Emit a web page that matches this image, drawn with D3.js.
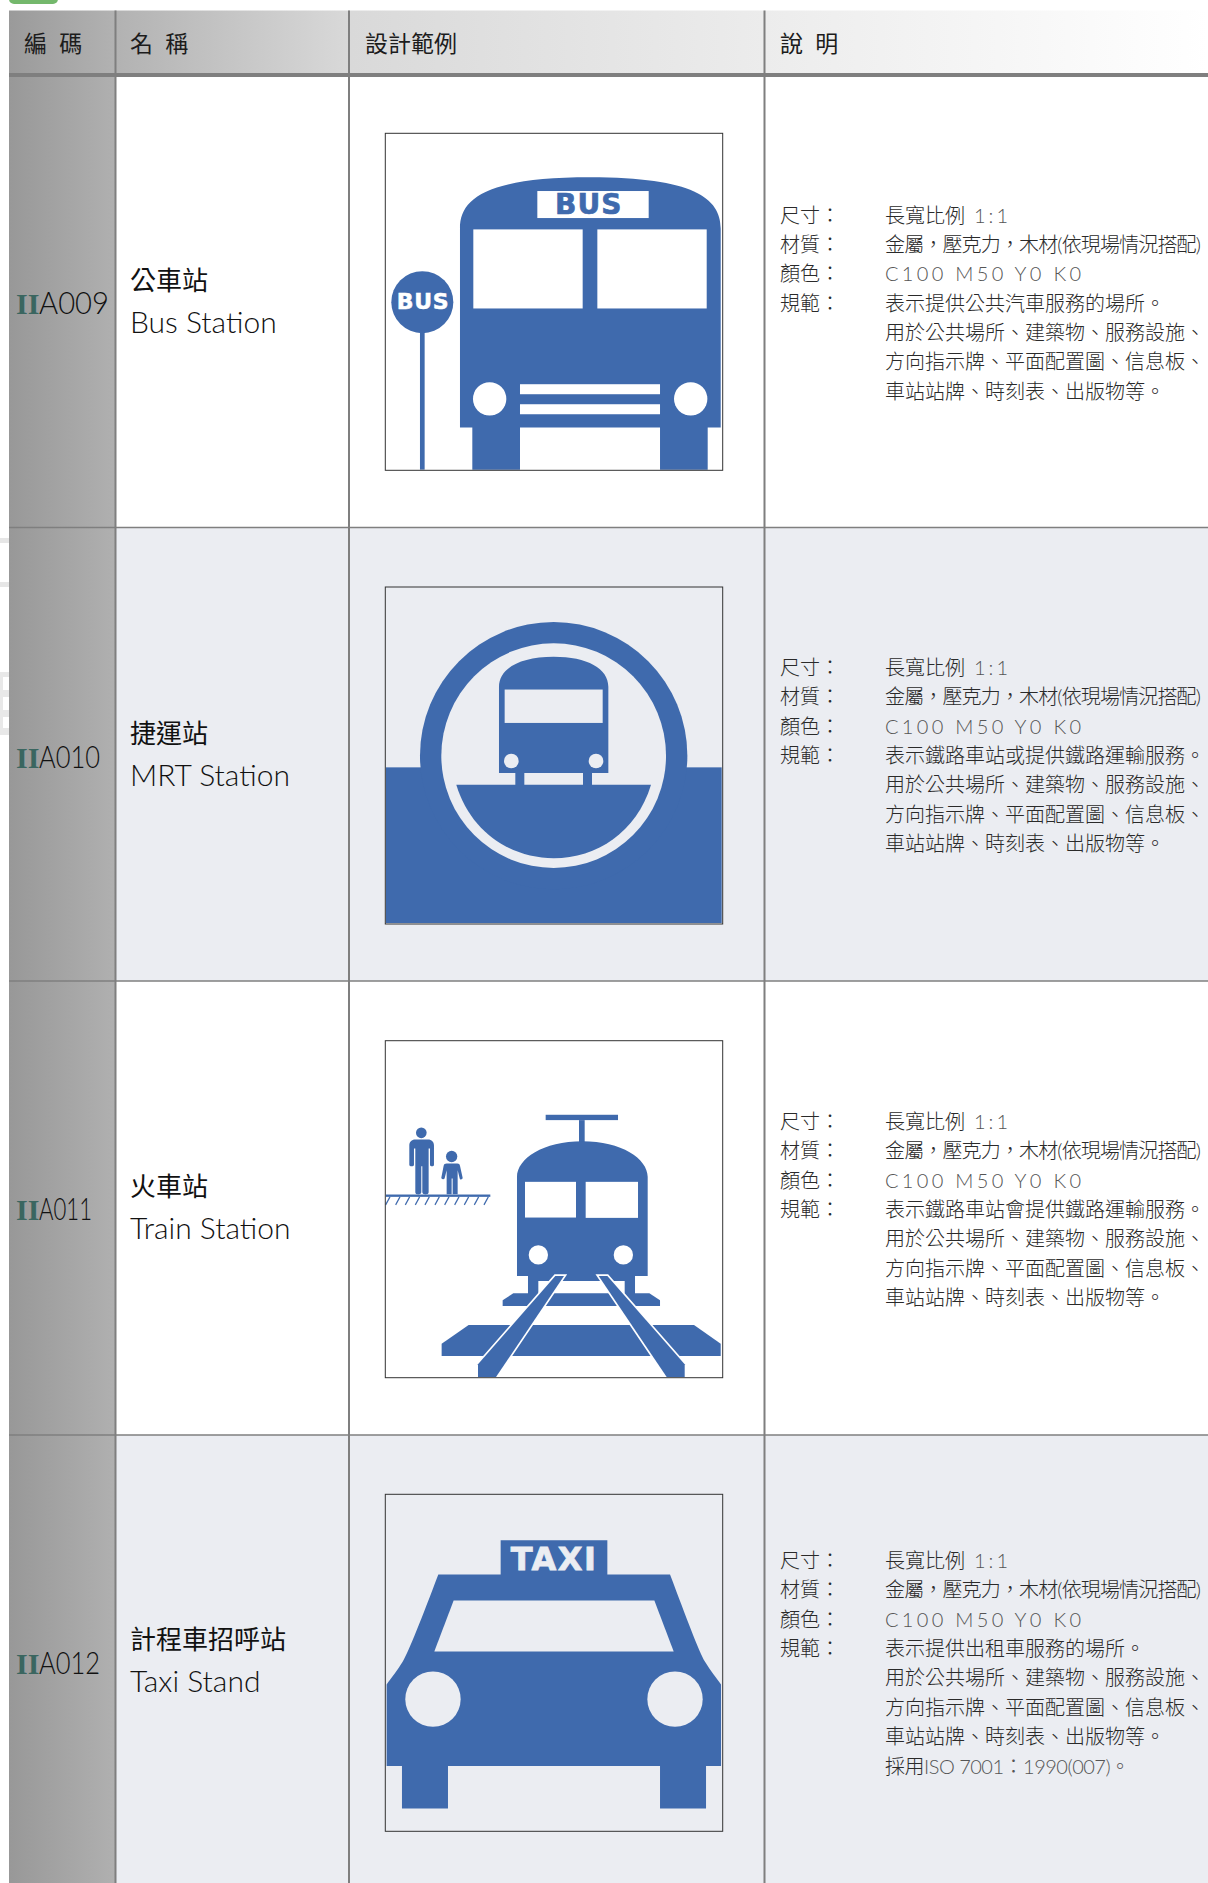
<!DOCTYPE html>
<html>
<head>
<meta charset="utf-8">
<script src="https://cdn.jsdelivr.net/npm/d3@7"></script>
<style>
  html, body { margin: 0; padding: 0; background: #fff; overflow: hidden; }
  svg { display: block; }
  text { font-family: "Lato", "Noto Sans CJK TC", sans-serif; font-weight: 300; fill: #2a2a2a; }
  .cjk { font-family: "Noto Sans CJK TC", sans-serif; }
</style>
</head>
<body>
<svg></svg>
<script>
// table content
const headers = ["編 碼", "名 稱", "設計範例", "說 明"]
const codes = ["A009", "A010", "A011", "A012"]
const namesZh = ["公車站", "捷運站", "火車站", "計程車招呼站"]
const namesEn = ["Bus Station", "MRT Station", "Train Station", "Taxi Stand"]
const labels = ["尺寸：", "材質：", "顏色：", "規範："]
const specSize = ["長寬比例", "1:1"]
const specMaterial = "金屬，壓克力，木材(依現場情況搭配)"
const specColor = "C100 M50 Y0 K0"
const usageFirst = [
  "表示提供公共汽車服務的場所。",
  "表示鐵路車站或提供鐵路運輸服務。",
  "表示鐵路車站會提供鐵路運輸服務。",
  "表示提供出租車服務的場所。"
]
const usageCommon = ["用於公共場所、建築物、服務設施、", "方向指示牌、平面配置圖、信息板、", "車站站牌、時刻表、出版物等。"]
const usageExtra = [null, null, null, ["採用", "ISO 7001：1990(007)。"]]

// icon outlines, in reference zoom units, each scaled into its own box
const busBody = [["M",270,922],["L",270,325],["C",270,235,350,172,660,172],["C",970,172,1052,235,1052,325],["L",1052,922],["L",1013,922],["L",1013,1048],["L",870,1048],["L",870,922],["L",450,922],["L",450,1048],["L",307,1048],["L",307,922],["Z"]]
const busHoles = [[502,213,836,294],[310,328,638,565],[682,328,1010,565],[450,792,870,822],[450,852,870,882]]
const busLights = [[359,836,50],[962,836,50]]
const mrtSegment = [["M",259,628],["L",843,628],["C",800,770,680,848,551,848],["C",422,848,302,770,259,628],["Z"]]
const mrtBus = [["M",387,593],["L",387,335],["C",387,280,450,245,551,245],["C",652,245,715,280,715,335],["L",715,593],["L",666,593],["L",666,630],["L",639,630],["L",639,593],["L",463,593],["L",463,630],["L",436,630],["L",436,593],["Z"]]
const trainBody = [["M",441,737],["L",441,440],["C",441,385,520,333,637,333],["C",754,333,833,385,833,440],["L",833,737],["L",795,737],["L",795,800],["L",764,800],["L",764,752],["L",505,752],["L",505,800],["L",474,800],["L",474,737],["Z"]]
const trainSleepers = [
  [["M",398,810],["L",430,789],["L",838,789],["L",870,810],["L",870,827],["L",398,827],["Z"]],
  [["M",215,940],["L",296,884],["L",972,884],["L",1052,940],["L",1052,977],["L",215,977],["Z"]]
]
const trainRails = [
  [["M",324,1040],["L",324,1002],["L",556,737],["L",582,737],["L",378,1040],["Z"]],
  [["M",944,1040],["L",944,1002],["L",712,737],["L",686,737],["L",890,1040],["Z"]]
]
const trainWindows = [[465,455,618,562],[647,455,804,563]]
const trainLights = [[505,674,29],[760,674,29]]
const hatchTops = [60,90,119,149,178,208,237,267,296,326,355]
const man = [["M",118,404],["L",118,346],["C",118,335,125,328,136,328],["L",174,328],["C",185,328,192,335,192,346],["L",192,404],["C",192,410,180,410,180,404],["L",180,355],["L",176,355],["L",176,486],["C",176,495,158,495,157,486],["L",157,408],["L",154,408],["L",154,486],["C",153,495,136,495,136,486],["L",136,355],["L",132,355],["L",132,404],["C",132,410,118,410,118,404],["Z"]]
const child = [["M",214,443],["L",221,407],["C",222,402,225,400,230,400],["L",262,400],["C",267,400,269,402,270,407],["L",278,443],["C",278,448,270,450,269,444],["L",263,420],["L",263,492],["L",248,492],["L",248,445],["L",245,445],["L",245,492],["L",230,492],["L",230,420],["L",224,444],["C",222,449,214,448,214,443],["Z"]]
const taxiBody = [["M",205,283],["L",392,283],["L",392,181],["L",712,181],["L",712,283],["L",900,283],["C",950,415,985,510,1005,545],["C",1020,570,1040,595,1053,613],["L",1053,857],["L",1008,857],["L",1008,985],["L",870,985],["L",870,857],["L",234,857],["L",234,985],["L",96,985],["L",96,857],["L",50,857],["L",50,613],["C",63,595,83,570,98,545],["C",118,510,155,415,205,283],["Z"]]
const taxiGlass = [[251,361],[853,361],[911,514],[193,514]]
const taxiLights = [[189,657,83],[915,657,83]]

const blue = "#3f6aad"
const tint = "#ebedf2"
const rule = "#7f7f7f"
const width = 1208, height = 1883

const svg = d3.select("svg").attr("width", width).attr("height", height)
const defs = svg.append("defs")

// layout: edges of columns and rows
const colEdges = [9, 115.5, 349, 764.5, 1208]
const rowEdges = [76, 527.5, 981, 1435, 1883]
const boxTops = [133.3, 587, 1040.7, 1494.3]
const boxZoomY = [[40,1050],[36,1045],[32,1042],[43,1053]]
const codeWidths = [70, 61, 53, 61]
const colX = d3.scaleOrdinal().domain(d3.range(4)).range([24, 130, 365, 780])
const lineY = d3.scaleLinear().domain([0, 1]).range([0, 29.37])

// backgrounds
const headGrad = defs.append("linearGradient").attr("id", "head").attr("gradientUnits", "userSpaceOnUse")
  .attr("x1", 9).attr("x2", 1208).attr("y1", 0).attr("y2", 0)
headGrad.selectAll("stop").data([[0,"#9a9a9a"],[0.089,"#b2b2b2"],[0.285,"#d9d9d9"],[0.63,"#ececec"],[1,"#ffffff"]])
  .join("stop").attr("offset", d => d[0]).attr("stop-color", d => d[1])
const codeGrad = defs.append("linearGradient").attr("id", "code")
codeGrad.selectAll("stop").data([[0,"#989898"],[1,"#b0b0b0"]])
  .join("stop").attr("offset", d => d[0]).attr("stop-color", d => d[1])

// bits of the neighbouring page that show around the table
svg.append("rect").attr("x", 9).attr("y", -6).attr("width", 49).attr("height", 10).attr("rx", 5).attr("fill", "#74b86c")
svg.selectAll(".ghost").data([[538,5,"#e6e6e6"],[582,5,"#e6e6e6"],[672,63,"#e8e8e8"],[677,13,"#fff"],[697,13,"#fff"],[717,11,"#fff"]]).join("rect")
  .attr("x", d => d[2] == "#fff" ? 3 : 0).attr("y", d => d[0]).attr("width", 9).attr("height", d => d[1]).attr("fill", d => d[2])

svg.append("rect").attr("x", 9).attr("y", 10.5).attr("width", width - 9).attr("height", 63).attr("fill", "url(#head)")
rowEdges.slice(0, 4).forEach((top, i) => {
  svg.append("rect").attr("x", colEdges[1]).attr("y", top).attr("width", width - colEdges[1]).attr("height", rowEdges[i + 1] - top)
    .attr("fill", i % 2 ? tint : "#fff")
})
svg.append("rect").attr("x", 9).attr("y", 73).attr("width", colEdges[1] - 9).attr("height", height - 73).attr("fill", "url(#code)")

// rules
svg.selectAll(".vrule").data(colEdges.slice(1, 4)).join("line")
  .attr("x1", d => d).attr("x2", d => d).attr("y1", 10.5).attr("y2", height)
  .attr("stroke", rule).attr("stroke-width", 2)
svg.append("rect").attr("x", 9).attr("y", 73).attr("width", width - 9).attr("height", 4).attr("fill", rule)
svg.selectAll(".hrule").data(rowEdges.slice(1, 4)).join("line")
  .attr("x1", 9).attr("x2", width).attr("y1", d => d).attr("y2", d => d)
  .attr("stroke", rule).attr("stroke-width", 1.6)

// header text
svg.selectAll(".head").data(headers).join("text")
  .attr("class", "cjk")
  .attr("x", (d, i) => colX(i)).attr("y", 52)
  .attr("font-size", 23)
  .style("font-weight", 400)
  .style("word-spacing", "7px")
  .style("fill", "#1c1c1c")
  .text(d => d)

// one row of the table
function drawRow(i) {
  const codeY = [314, 768, 1220, 1674][i]
  svg.append("text").attr("x", 16).attr("y", codeY).attr("font-size", 30)
    .style("font-family", '"Liberation Serif", serif').style("font-weight", 700).style("fill", "#3a6660")
    .text("II")
  svg.append("text").attr("x", 39).attr("y", codeY).attr("font-size", 31)
    .attr("textLength", codeWidths[i]).attr("lengthAdjust", "spacingAndGlyphs")
    .style("fill", "#111").text(codes[i])

  const nameY = [281, 734, 1187, 1640][i]
  svg.append("text").attr("class", "cjk").attr("x", colX(1)).attr("y", nameY + 9).attr("font-size", 26)
    .style("font-weight", 400).style("fill", "#111").text(namesZh[i])
  svg.append("text").attr("x", colX(1)).attr("y", nameY + 52).attr("font-size", 30)
    .style("fill", "#111").text(namesEn[i])

  const firstY = [215.5, 668, 1122, 1561][i] + 7
  labels.forEach((t, k) => {
    svg.append("text").attr("class", "cjk").attr("x", colX(3)).attr("y", firstY + lineY(k))
      .attr("font-size", 20).text(t)
  })
  const valueLine = k => svg.append("text").attr("x", 885).attr("y", firstY + lineY(k)).attr("font-size", 20)

  const sizeLine = valueLine(0)
  sizeLine.append("tspan").text(specSize[0])
  sizeLine.append("tspan").attr("dx", 9).style("letter-spacing", "3px").style("fill", "#555").text(specSize[1])
  valueLine(1).style("letter-spacing", "-0.85px").text(specMaterial)
  valueLine(2).attr("textLength", 196).style("fill", "#555").text(specColor)
  const usage = [usageFirst[i]].concat(usageCommon)
  usage.forEach((t, k) => valueLine(k + 3).text(t))
  if (usageExtra[i]) {
    const extra = valueLine(usage.length + 3).style("letter-spacing", "-0.5px")
    extra.append("tspan").text(usageExtra[i][0])
    extra.append("tspan").style("fill", "#555").text(usageExtra[i][1])
  }

  // icon box
  const top = boxTops[i]
  const g = svg.append("g")
  const sx = d3.scaleLinear().domain([46, 1058]).range([385.3, 722.7])
  const sy = d3.scaleLinear().domain(boxZoomY[i]).range([top, top + 337])
  const bg = i % 2 ? tint : "#fff"
  drawIcon[i](g, sx, sy, bg)
  g.append("rect").attr("x", sx(46)).attr("y", sy(boxZoomY[i][0])).attr("width", sx(1058) - sx(46)).attr("height", sy(boxZoomY[i][1]) - sy(boxZoomY[i][0]))
    .attr("fill", "none").attr("stroke", "#333").attr("stroke-width", 1)
}

// turn an outline into a path string through the box scales
function outline(segs, sx, sy) {
  const p = d3.path()
  segs.forEach(s => {
    if (s[0] == "M") p.moveTo(sx(s[1]), sy(s[2]))
    if (s[0] == "L") p.lineTo(sx(s[1]), sy(s[2]))
    if (s[0] == "C") p.bezierCurveTo(sx(s[1]), sy(s[2]), sx(s[3]), sy(s[4]), sx(s[5]), sy(s[6]))
    if (s[0] == "Z") p.closePath()
  })
  return p.toString()
}
function boxes(g, data, sx, sy, fill) {
  g.selectAll(null).data(data).join("rect")
    .attr("x", d => sx(d[0])).attr("y", d => sy(d[1]))
    .attr("width", d => sx(d[2]) - sx(d[0])).attr("height", d => sy(d[3]) - sy(d[1]))
    .attr("fill", fill)
}
function dots(g, data, sx, sy, fill) {
  g.selectAll(null).data(data).join("circle")
    .attr("cx", d => sx(d[0])).attr("cy", d => sy(d[1]))
    .attr("r", d => sx(d[2]) - sx(0))
    .attr("fill", fill)
}
function badge(g, label, x, y, size, fill, spacing, heavy) {
  g.append("text").attr("x", x).attr("y", y).attr("font-size", size).attr("text-anchor", "middle")
    .style("font-family", '"DejaVu Sans", sans-serif').style("font-weight", 700)
    .style("letter-spacing", spacing + "px").style("fill", fill)
    .style("stroke", fill).style("stroke-width", heavy).text(label)
}

const drawIcon = [
  function (g, sx, sy, bg) {
    g.append("path").attr("d", outline(busBody, sx, sy)).attr("fill", blue)
    boxes(g, busHoles, sx, sy, "#fff")
    dots(g, busLights, sx, sy, "#fff")
    badge(g, "BUS", sx(656), sy(283), 28, blue, 1, 0.7)
    dots(g, [[157,546,93]], sx, sy, blue)
    boxes(g, [[150,630,164,1048]], sx, sy, blue)
    badge(g, "BUS", sx(159), sy(568), 22, "#fff", 0.7, 0.5)
  },
  function (g, sx, sy, bg) {
    boxes(g, [[48,576,1055,1042]], sx, sy, blue)
    dots(g, [[551,541,401]], sx, sy, blue)
    dots(g, [[551,541,337]], sx, sy, bg)
    g.append("path").attr("d", outline(mrtSegment, sx, sy)).attr("fill", blue)
    g.append("path").attr("d", outline(mrtBus, sx, sy)).attr("fill", blue)
    boxes(g, [[404,343,698,443]], sx, sy, bg)
    dots(g, [[424,557,22],[678,557,22]], sx, sy, bg)
  },
  function (g, sx, sy, bg) {
    boxes(g, [[527,254,744,270],[627,270,644,340],[48,493,361,500]], sx, sy, blue)
    trainSleepers.forEach(s => g.append("path").attr("d", outline(s, sx, sy)).attr("fill", blue))
    g.append("path").attr("d", outline(trainBody, sx, sy)).attr("fill", blue)
    boxes(g, trainWindows, sx, sy, "#fff")
    dots(g, trainLights, sx, sy, "#fff")
    trainRails.forEach(s => g.append("path").attr("d", outline(s, sx, sy))
      .attr("fill", blue).attr("stroke", "#fff").attr("stroke-width", 3.4).attr("paint-order", "stroke"))
    g.selectAll(null).data(hatchTops).join("line")
      .attr("x1", d => sx(d)).attr("y1", sy(500)).attr("x2", d => sx(d - 13)).attr("y2", sy(524))
      .attr("stroke", blue).attr("stroke-width", 1.2)
    dots(g, [[154,308,16],[245,379,17]], sx, sy, blue)
    g.append("path").attr("d", outline(man, sx, sy)).attr("fill", blue)
    g.append("path").attr("d", outline(child, sx, sy)).attr("fill", blue)
  },
  function (g, sx, sy, bg) {
    g.append("path").attr("d", outline(taxiBody, sx, sy)).attr("fill", blue)
    g.append("path").attr("d", "M" + taxiGlass.map(d => [sx(d[0]), sy(d[1])]).join("L") + "Z").attr("fill", bg)
    dots(g, taxiLights, sx, sy, bg)
    badge(g, "TAXI", sx(552), sy(270), 32, bg, 1.5, 0.8)
  }
]

d3.range(4).forEach(drawRow)
</script>
</body>
</html>
